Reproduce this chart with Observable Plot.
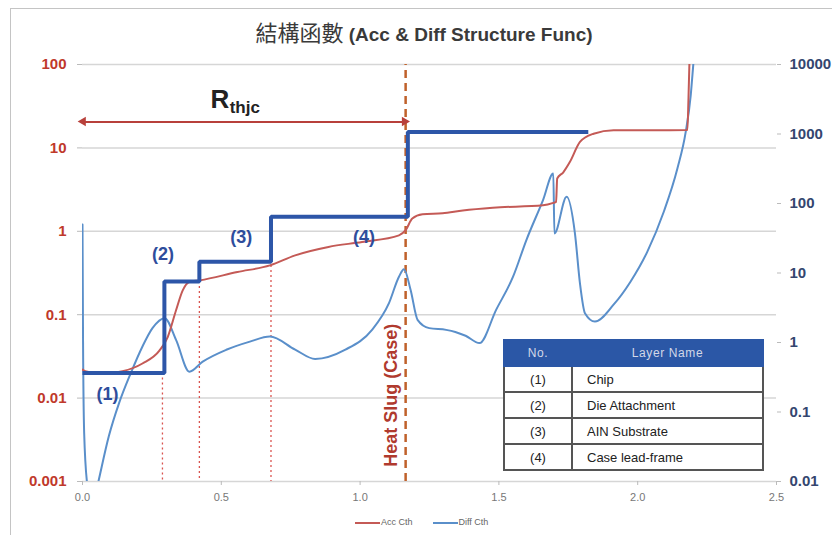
<!DOCTYPE html>
<html><head><meta charset="utf-8">
<script src="https://cdn.jsdelivr.net/npm/d3@7"></script>
<script src="https://cdn.jsdelivr.net/npm/@observablehq/plot@0.6"></script>
<style>
body{margin:0;background:#fff;font-family:"Liberation Sans",Arial,sans-serif;}
#wrap{position:relative;width:832px;height:535px;overflow:hidden;background:#fff;}
#frame{position:absolute;left:10px;top:8px;width:900px;height:600px;border:1px solid #c4c4c4;}
#chart{position:absolute;left:0;top:0;}
#title{position:absolute;left:0;width:848px;top:15px;text-align:center;font-size:19px;color:#3a3a3a;white-space:nowrap;}
#title .zh{font-family:"Noto Sans CJK TC","Noto Sans CJK SC",sans-serif;font-size:22px;font-weight:normal;}
#title .en{font-weight:bold;}
#legend{position:absolute;top:517px;left:355px;font-size:9px;color:#666;white-space:nowrap;}
#legend span.sw{display:inline-block;width:25px;height:2px;vertical-align:middle;margin-right:1px;}
#legend span.item{margin-right:20px;}
#tbl{position:absolute;left:503px;top:339px;border-collapse:collapse;font-size:13px;color:#222;background:#fff;}
#tbl td,#tbl th{border:2px solid #555;height:24px;padding:0;}
#tbl th{background:#2b57a6;color:#d3d8e8;font-weight:normal;font-size:12px;letter-spacing:0.6px;border-color:#2b57a6;}
#tbl td.n{width:66px;text-align:center;}
#tbl td.l{width:175px;padding-left:14px;text-align:left;}
</style></head>
<body>
<div id="wrap">
<div id="frame"></div>
<div id="chart"></div>
<div id="title"><span class="zh">結構函數</span> <span class="en">(Acc &amp; Diff Structure Func)</span></div>
<div id="legend"></div>
<div id="tbl-holder"></div>
</div>
<script>
// ---------- data ----------
const accX = [0, 0.01, 0.05, 0.10, 0.144, 0.216, 0.277, 0.307, 0.337, 0.361, 0.385, 0.423, 0.558, 0.675, 0.766, 0.886, 1.007, 1.14, 1.164, 1.188, 1.225, 1.297, 1.37, 1.478, 1.659, 1.696, 1.706, 1.710, 1.732, 1.756, 1.792, 1.841, 1.913, 2.034, 2.179, 2.183, 2.19];
const accY = [0.022, 0.021, 0.02, 0.02, 0.021, 0.026, 0.037, 0.054, 0.113, 0.196, 0.247, 0.258, 0.325, 0.39, 0.515, 0.65, 0.745, 0.895, 1.03, 1.42, 1.6, 1.65, 1.78, 1.92, 2.05, 2.19, 2.25, 4.3, 5.1, 6.8, 11.8, 14.8, 16.3, 16.3, 16.4, 40, 300];

const diffX = [0, 0.002, 0.006, 0.017, 0.035, 0.059, 0.095, 0.132, 0.174, 0.216, 0.252, 0.296, 0.337, 0.385, 0.433, 0.518, 0.603, 0.675, 0.766, 0.838, 0.947, 1.043, 1.104, 1.14, 1.158, 1.182, 1.207, 1.249, 1.31, 1.343, 1.38, 1.43, 1.49, 1.551, 1.599, 1.659, 1.696, 1.700, 1.744, 1.774, 1.792, 1.81, 1.846, 1.913, 1.974, 2.034, 2.094, 2.143, 2.173, 2.191, 2.2, 2.21];
const diffY = [50, 1, 0.05, 0.009, 0.004, 0.0107, 0.045, 0.135, 0.363, 0.877, 1.61, 2.24, 1.09, 0.38, 0.53, 0.786, 1.03, 1.22, 0.79, 0.58, 0.79, 1.52, 3.68, 8.85, 11.3, 5.7, 2.12, 1.61, 1.52, 1.42, 1.25, 0.98, 2.95, 8.85, 29.8, 112, 270, 37, 125, 37, 7.1, 2.64, 2.0, 3.5, 7.5, 20, 76, 318, 1070, 3600, 9700, 30000];

const stepX = [0, 0.295, 0.421, 0.679, 1.172, 1.822];
const stepY = [0.02, 0.25, 0.43, 1.49, 15.5, 15.5];

const layerX = [0.288, 0.421, 0.679];
const layerTop = [0.02, 0.25, 0.39];
const heatSlugX = 1.164;
const rthjcSpan = [0.004, 1.162];
const rthjcLevel = 20.4;

const layerLabels = ["(1)", "(2)", "(3)", "(4)"];
const layerLabelX = [0.09, 0.29, 0.572, 1.014];
const layerLabelY = [0.0111, 0.53, 0.85, 0.85];

const leftTicks = [0.001, 0.01, 0.1, 1, 10, 100];
const rightTicks = [0.01, 0.1, 1, 10, 100, 1000, 10000];
const xTicks = [0, 0.5, 1, 1.5, 2, 2.5];

const seriesNames = ["Acc Cth", "Diff Cth"];
const tableNo = ["(1)", "(2)", "(3)", "(4)"];
const tableLayer = ["Chip", "Die Attachment", "AIN Substrate", "Case lead-frame"];

// ---------- helpers ----------
// right axis spans 0.01..10000 on the same pixel range as left 0.001..100
const toLeft = r => Math.pow(10, -3 + (Math.log10(r) + 2) * 5 / 6);

const RED = "#c45a56";
const BLUE = "#5a8fca";
const STEP = "#2d56a8";
const LBL = "#2e4d9c";
const ARROW = "#b8403b";

const acc = accX.map((x, i) => ({x, y: accY[i]}));
const diff = diffX.map((x, i) => ({x, y: toLeft(diffY[i])}));
const steps = stepX.map((x, i) => ({x, y: stepY[i]}));
const drops = layerX.map((x, i) => ({x, y1: layerTop[i], y2: 0.001}));
const labels = layerLabels.map((t, i) => ({t, x: layerLabelX[i], y: layerLabelY[i]}));
const heads = [{x: rthjcSpan[0], rot: -90, dx: 3}, {x: rthjcSpan[1], rot: 90, dx: -3}];

const chart = Plot.plot({
  width: 832, height: 535,
  marginTop: 64, marginBottom: 54, marginLeft: 82, marginRight: 56,
  x: {domain: [0, 2.5], label: null},
  y: {type: "log", domain: [0.001, 100], label: null},
  style: {background: "transparent", fontFamily: "'Liberation Sans', Arial, sans-serif"},
  marks: [
    Plot.gridY(leftTicks, {stroke: "#d6d6d6", strokeOpacity: 1, strokeWidth: 1.5}),
    Plot.axisY(leftTicks, {anchor: "left", tickSize: 5, tickPadding: 11, fontSize: 15, fontWeight: "bold", fill: "#c0392b", stroke: "#bbb", tickFormat: d => String(d)}),
    Plot.axisY(rightTicks.map(toLeft), {anchor: "right", tickSize: 4, tickPadding: 9, stroke: "#bbb", tickFormat: () => " "}),
    Plot.text(rightTicks, {y: d => toLeft(d), text: d => String(d), frameAnchor: "right", dx: 13, textAnchor: "start", fontSize: 15, fontWeight: "bold", fill: "#34466f"}),
    Plot.axisX(xTicks, {tickSize: 4, tickPadding: 8, fontSize: 11, fill: "#777", stroke: "#bbb"}),
    Plot.ruleX(drops, {x: "x", y1: "y1", y2: "y2", stroke: "#d9534f", strokeWidth: 1.3, strokeDasharray: "2,3"}),
    Plot.ruleX([heatSlugX], {y1: 0.001, y2: 100, stroke: "#c0612b", strokeWidth: 2.5, strokeDasharray: "8,5"}),
    Plot.line(diff, {x: "x", y: "y", stroke: BLUE, strokeWidth: 2, curve: "monotone-x", clip: true}),
    Plot.line(acc, {x: "x", y: "y", stroke: RED, strokeWidth: 2, curve: "monotone-x", clip: true}),
    Plot.line(steps, {x: "x", y: "y", stroke: STEP, strokeWidth: 4, curve: "step-after", strokeLinejoin: "miter", strokeLinecap: "butt"}),
    Plot.link([0], {x1: rthjcSpan[0], x2: rthjcSpan[1], y1: rthjcLevel, y2: rthjcLevel, stroke: ARROW, strokeWidth: 2}),
    Plot.dot(heads, {x: "x", y: rthjcLevel, symbol: "triangle", rotate: "rot", dx: "dx", r: 3.5, fill: ARROW, stroke: "none"}),
    Plot.text(["R"], {x: [0.461], y: [29.8], text: d => d, textAnchor: "start", lineAnchor: "bottom", fontSize: 26, fontWeight: "bold", fill: "#222"}),
    Plot.text(["thjc"], {x: [0.530], y: [26.5], text: d => d, textAnchor: "start", lineAnchor: "bottom", fontSize: 17, fontWeight: "bold", fill: "#222"}),
    Plot.text(labels, {x: "x", y: "y", text: "t", fontSize: 18, fontWeight: "bold", fill: LBL}),
    Plot.text(["Heat Slug (Case)"], {x: [1.112], y: [0.0108], text: d => d, rotate: -90, fontSize: 18, fontWeight: "bold", fill: "#b03a2e"})
  ]
});
document.getElementById("chart").appendChild(chart);

// legend
const lg = document.getElementById("legend");
lg.innerHTML = seriesNames.map((n, i) =>
  `<span class="item"><span class="sw" style="background:${i ? BLUE : RED}"></span>${n}</span>`).join("");

// table
let html = `<table id="tbl"><tr><th>No.</th><th>Layer Name</th></tr>`;
tableNo.forEach((n, i) => { html += `<tr><td class="n">${n}</td><td class="l">${tableLayer[i]}</td></tr>`; });
html += `</table>`;
document.getElementById("tbl-holder").innerHTML = html;
</script>
</body></html>
